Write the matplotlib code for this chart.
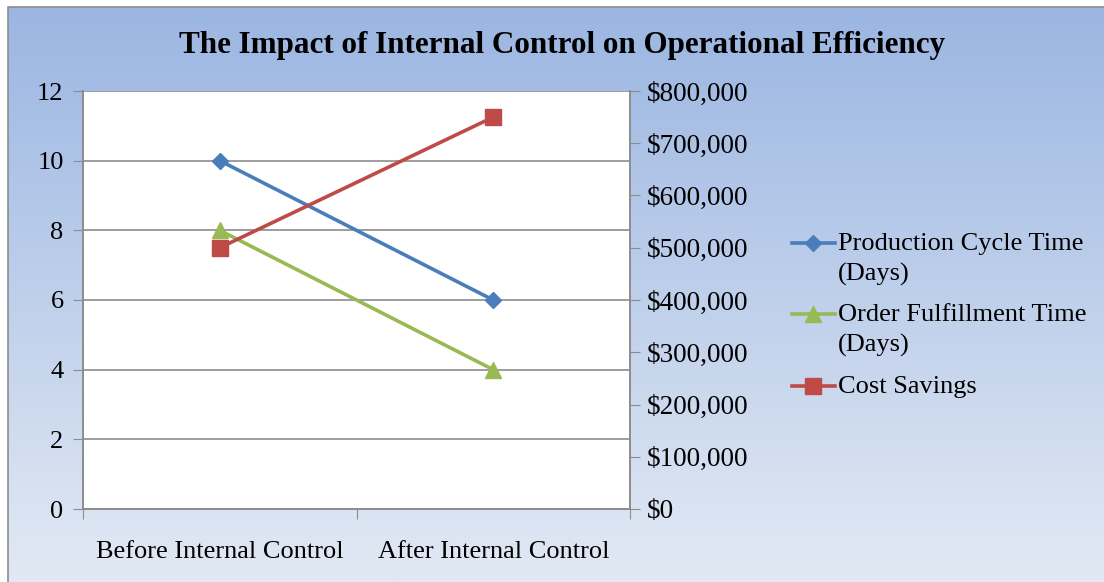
import numpy as np
import matplotlib
matplotlib.use("Agg")
import matplotlib.pyplot as plt
from matplotlib.patches import Rectangle
from matplotlib.lines import Line2D

categories = ["Before Internal Control", "After Internal Control"]
production_cycle = [10, 6]
order_fulfillment = [8, 4]
cost_savings = [500000, 750000]
left_ticks = [0, 2, 4, 6, 8, 10, 12]
right_ticks = [0, 100000, 200000, 300000, 400000, 500000, 600000, 700000, 800000]

plt.rcParams['font.family'] = ['Liberation Serif', 'DejaVu Serif']

W, H = 1104, 582
fig = plt.figure(figsize=(W / 100, H / 100), dpi=100)
fig.patch.set_facecolor('white')

# gradient background
bg = fig.add_axes([8 / W, 0, 1 - 8 / W, 1 - 7 / H], zorder=-10)
top = np.array([155, 182, 226]) / 255
bot = np.array([226, 233, 244]) / 255
t = np.linspace(0, 1, 256)[:, None]
grad = top[None, :] * (1 - t) + bot[None, :] * t
bg.imshow(grad[:, None, :], aspect='auto', extent=[0, 1, 0, 1], origin='upper')
bg.set_xlim(0, 1)
bg.set_ylim(0, 1)
bg.axis('off')
fig.add_artist(Rectangle((8 / W, -0.05), 1.2, 1 - 7 / H + 0.05, transform=fig.transFigure,
                         fill=False, edgecolor='#8c8c8c', linewidth=1.2, zorder=5))

ax = fig.add_axes([83 / W, 1 - 509 / H, (630 - 83) / W, (509 - 91) / H])
ax.set_facecolor('white')
ax2 = ax.twinx()

x = np.arange(len(categories))
blue = '#4A7EBB'
green = '#98B954'
red = '#BE4B48'

l1, = ax.plot(x, production_cycle, color=blue, lw=2.6, marker='D', ms=8, zorder=3,
              label='Production Cycle Time\n(Days)')
l2, = ax.plot(x, order_fulfillment, color=green, lw=2.6, marker='^', ms=12, zorder=3,
              label='Order Fulfillment Time\n(Days)')
l3, = ax2.plot(x, cost_savings, color=red, lw=2.6, marker='s', ms=11, zorder=3,
               label='Cost Savings')

ax.set_xlim(-0.5, 1.5)
ax.set_ylim(0, 12)
ax2.set_ylim(0, 800000)
ax.set_yticks(left_ticks)
ax2.set_yticks(right_ticks)
ax2.set_yticklabels(['${:,.0f}'.format(v) for v in right_ticks])
ax.set_xticks([-0.5, 0.5, 1.5])
ax.set_xticklabels([])
ax.set_xticks(x, minor=True)
ax.set_xticklabels(categories, minor=True)
ax.tick_params(axis='x', which='minor', length=0, pad=23, labelsize=19)
ax.tick_params(axis='x', which='major', length=7, color='#8c8c8c')
ax.tick_params(axis='y', length=7, color='#8c8c8c', pad=7, labelsize=19)
ax2.tick_params(axis='y', length=7, color='#8c8c8c', pad=5, labelsize=19.5)

ax.grid(axis='y', color='#8c8c8c', lw=1.2)
ax.set_axisbelow(True)
for a in (ax, ax2):
    for s in a.spines.values():
        s.set_color('#8c8c8c')
        s.set_linewidth(1.2)
    a.spines['top'].set_visible(False)
ax2.patch.set_visible(False)

fig.text(562 / W, 1 - 45 / H, 'The Impact of Internal Control on Operational Efficiency',
         ha='center', va='center', fontsize=22.4, fontweight='bold')

leg = fig.legend(handles=[l1, l2, l3], loc='upper left',
                 bbox_to_anchor=(781 / W, 1 - 222 / H), frameon=False, fontsize=19,
                 handlelength=1.65, handleheight=1.0, handletextpad=0.1,
                 labelspacing=0.7, borderaxespad=0)
for txt in leg.get_texts():
    txt.set_linespacing(1.45)
# put each legend marker beside the first line of its label
for col in leg._legend_handle_box.get_children():
    for item in col.get_children():
        item.align = 'top'

fig.savefig('out.png', dpi=100)
